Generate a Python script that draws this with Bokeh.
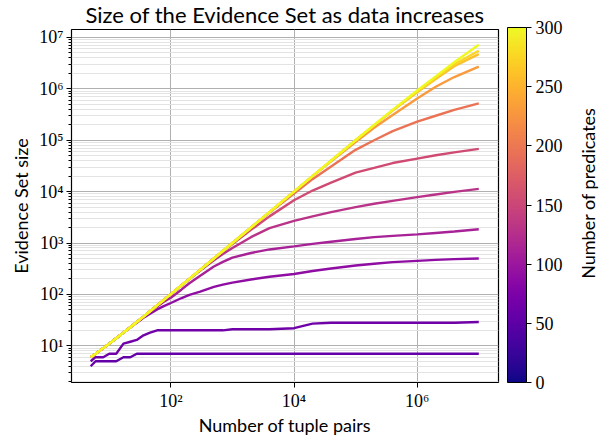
import math
from bokeh.plotting import figure
from bokeh.layouts import row
from bokeh.models import (LinearColorMapper, ColorBar, FixedTicker, CustomJSTickFormatter,
                          Range1d)
from bokeh.palettes import Plasma256
from bokeh.core.properties import value
from bokeh.embed import file_html
from bokeh.resources import INLINE

# ---------------- data ----------------
tuple_pairs = [5, 6, 8, 10, 13, 17, 22, 28, 36, 46, 60, 77, 100, 150, 200, 300, 500, 700,
               1e3, 2e3, 4e3, 1e4, 2e4, 4e4, 1e5, 2e5, 4e5, 1e6, 2e6, 4e6, 1e7]

predicates = [55, 65, 90, 110, 130, 155, 195, 230, 260, 275, 300]

es_55 = [4, 5, 5, 5, 5, 6, 6, 7, 7, 7, 7, 7, 7, 7, 7, 7, 7, 7,
         7, 7, 7, 7, 7, 7, 7, 7, 7, 7, 7, 7, 7]
es_65 = [5, 6, 6, 7, 7, 11, 12, 13, 16, 18, 20, 20, 20, 20, 20, 20, 20, 20,
         21, 21, 21, 22, 27, 28, 28, 28, 28, 28, 28, 28, 29]
es_90 = [6, 7, 9, 11, 14, 18, 23, 28, 35, 42, 51, 59, 68, 85, 98, 113, 140, 155,
         170, 195, 220, 250, 285, 320, 365, 395, 425, 450, 470, 485, 500]
es_110 = [6, 7, 9, 11, 14, 18, 23, 29, 37, 46, 58, 72, 86, 125, 165, 230, 350, 430,
          520, 640, 750, 860, 960, 1060, 1200, 1300, 1380, 1470, 1570, 1680, 1850]
es_130 = [6, 7, 9, 11, 14, 18, 23, 29, 37, 47, 61, 78, 101, 150, 198, 290, 460, 610,
          800, 1300, 1950, 2700, 3300, 4000, 5000, 5800, 6600, 7800, 8800, 9900, 11300]
es_155 = [6, 7, 9, 11, 14, 18, 23, 29, 37, 47, 61, 78, 101, 151, 201, 300, 500, 690,
          960, 1800, 3300, 6800, 10500, 15000, 23500, 29000, 36000, 44000, 51000, 58000, 68000]
es_195 = [6, 7, 9, 11, 14, 18, 23, 29, 37, 47, 61, 78, 101, 151, 201, 301, 500, 700,
          1000, 2000, 3900, 9200, 17500, 31000, 65000, 100000, 150000, 230000, 300000, 390000, 520000]
es_230 = [6, 7, 9, 11, 14, 18, 23, 29, 37, 47, 61, 78, 101, 151, 201, 301, 500, 700,
          1000, 2000, 4000, 1e4, 2e4, 3.9e4, 9.2e4, 1.75e5, 3.1e5, 6.5e5, 1.1e6, 1.7e6, 2.7e6]
es_260 = [6, 7, 9, 11, 14, 18, 23, 29, 37, 47, 61, 78, 101, 151, 201, 301, 500, 700,
          1000, 2000, 4000, 1e4, 2e4, 4e4, 1e5, 1.95e5, 3.8e5, 8.6e5, 1.55e6, 2.75e6, 4.75e6]
es_275 = [6, 7, 9, 11, 14, 18, 23, 29, 37, 47, 61, 78, 101, 151, 201, 301, 500, 700,
          1000, 2000, 4000, 1e4, 2e4, 4e4, 1e5, 1.97e5, 3.85e5, 8.9e5, 1.65e6, 3.0e6, 5.5e6]
es_300 = [6, 7, 9, 11, 14, 18, 23, 29, 37, 47, 61, 78, 101, 151, 201, 301, 500, 700,
          1000, 2000, 4000, 1e4, 2e4, 4e4, 1e5, 1.98e5, 3.9e5, 9.3e5, 1.75e6, 3.3e6, 7.2e6]

series = [es_55, es_65, es_90, es_110, es_130, es_155, es_195, es_230, es_260, es_275, es_300]

cbar_ticks = [0, 50, 100, 150, 200, 250, 300]
y_major = [10, 100, 1e3, 1e4, 1e5, 1e6, 1e7]
x_major = [1e2, 1e4, 1e6]
cbar_label = "Number of predicates"

# ---------------- figure ----------------
SANS = "Lato"
SERIF = "Liberation Serif"
H = 438

p = figure(x_axis_type="log", y_axis_type="log",
           x_range=Range1d(2.44, 2.09e7), y_range=Range1d(1.93, 1.43e7),
           width=570, height=H,
           min_border_left=71, min_border_top=27, min_border_right=72, min_border_bottom=56,
           output_backend="svg", toolbar_location=None,
           title="Size of the Evidence Set as data increases")

p.title.text_font = SANS
p.title.text_font_size = "22px"
p.title.text_font_style = "normal"
p.title.align = "center"
p.title.vertical_align = "top"
p.title.text_color = "black"
p.title.offset = 0
p.title.standoff = 0
p.title.text_line_height = 0.8

p.outline_line_color = "black"
p.outline_line_width = 1.2
p.background_fill_color = "white"

sup = "{'0':'\u2070','1':'\u00b9','2':'\u00b2','3':'\u00b3','4':'\u2074','5':'\u2075','6':'\u2076','7':'\u2077','8':'\u2078','9':'\u2079'}"
fmt_code = "const s=%s; const e=Math.round(Math.log10(tick)); return '10'+String(e).split('').map(c=>s[c]).join('');" % sup

y_minor = [m * 10 ** k for k in range(0, 8) for m in range(2, 10)]

p.yaxis.ticker = FixedTicker(ticks=y_major, minor_ticks=y_minor)
p.xaxis.ticker = FixedTicker(ticks=x_major, minor_ticks=[])
for ax in (p.xaxis[0], p.yaxis[0]):
    ax.formatter = CustomJSTickFormatter(code=fmt_code)
    ax.major_label_text_font = SERIF
    ax.major_label_text_font_size = "18px"
    ax.major_label_text_color = "black"
    ax.axis_line_color = None
    ax.major_tick_line_color = "black"
    ax.minor_tick_line_color = "black"
    ax.major_tick_out = 5
    ax.major_tick_in = 0
    ax.minor_tick_out = 3
    ax.minor_tick_in = 0
    ax.axis_label_text_font = SANS
    ax.axis_label_text_font_size = "18px"
    ax.axis_label_text_font_style = "normal"
    ax.axis_label_text_color = "black"

p.xaxis.axis_label = "Number of tuple pairs"
p.yaxis.axis_label = "Evidence Set size"
p.xaxis.axis_label_standoff = 0
p.yaxis.axis_label_standoff = 4
p.xaxis.major_label_standoff = 3
p.yaxis.major_label_standoff = 3

p.xgrid.grid_line_color = "#b0b0b0"
p.xgrid.grid_line_width = 1
p.ygrid.grid_line_color = "#b0b0b0"
p.ygrid.grid_line_width = 1
p.ygrid.minor_grid_line_color = "#e3e3e3"
p.ygrid.minor_grid_line_width = 1

mapper = LinearColorMapper(palette=Plasma256, low=0, high=300)

for npred, ys in zip(predicates, series):
    idx = min(255, int(round(npred / 300 * 255)))
    p.line(tuple_pairs, ys, line_color=Plasma256[idx], line_width=2.4)

cb = ColorBar(color_mapper=mapper, width=19, height=355, padding=0, margin=0,
              location=(9, 0), ticker=FixedTicker(ticks=cbar_ticks),
              major_label_text_font=SERIF, major_label_text_font_size="18px",
              major_label_text_color="black",
              major_tick_line_color="black", major_tick_out=5, major_tick_in=0,
              minor_tick_line_color=None,
              bar_line_color="black", bar_line_width=1,
              label_standoff=4, background_fill_color=None, border_line_color=None)
p.add_layout(cb, "right")

# narrow side panel holding the rotated colour-bar label
q = figure(width=42, height=H, x_range=Range1d(0, 42), y_range=Range1d(0, H),
           x_axis_location=None, y_axis_location=None, min_border=0,
           output_backend="svg", toolbar_location=None)
q.grid.visible = False
q.outline_line_color = None
q.text(x=[17], y=[H - 203], text=[cbar_label], angle=math.pi / 2,
       text_align="center", text_baseline="middle",
       text_font=value(SANS), text_font_size="18px", text_color="black")

layout = row(p, q)
open("out.html", "w").write(file_html(layout, INLINE))
